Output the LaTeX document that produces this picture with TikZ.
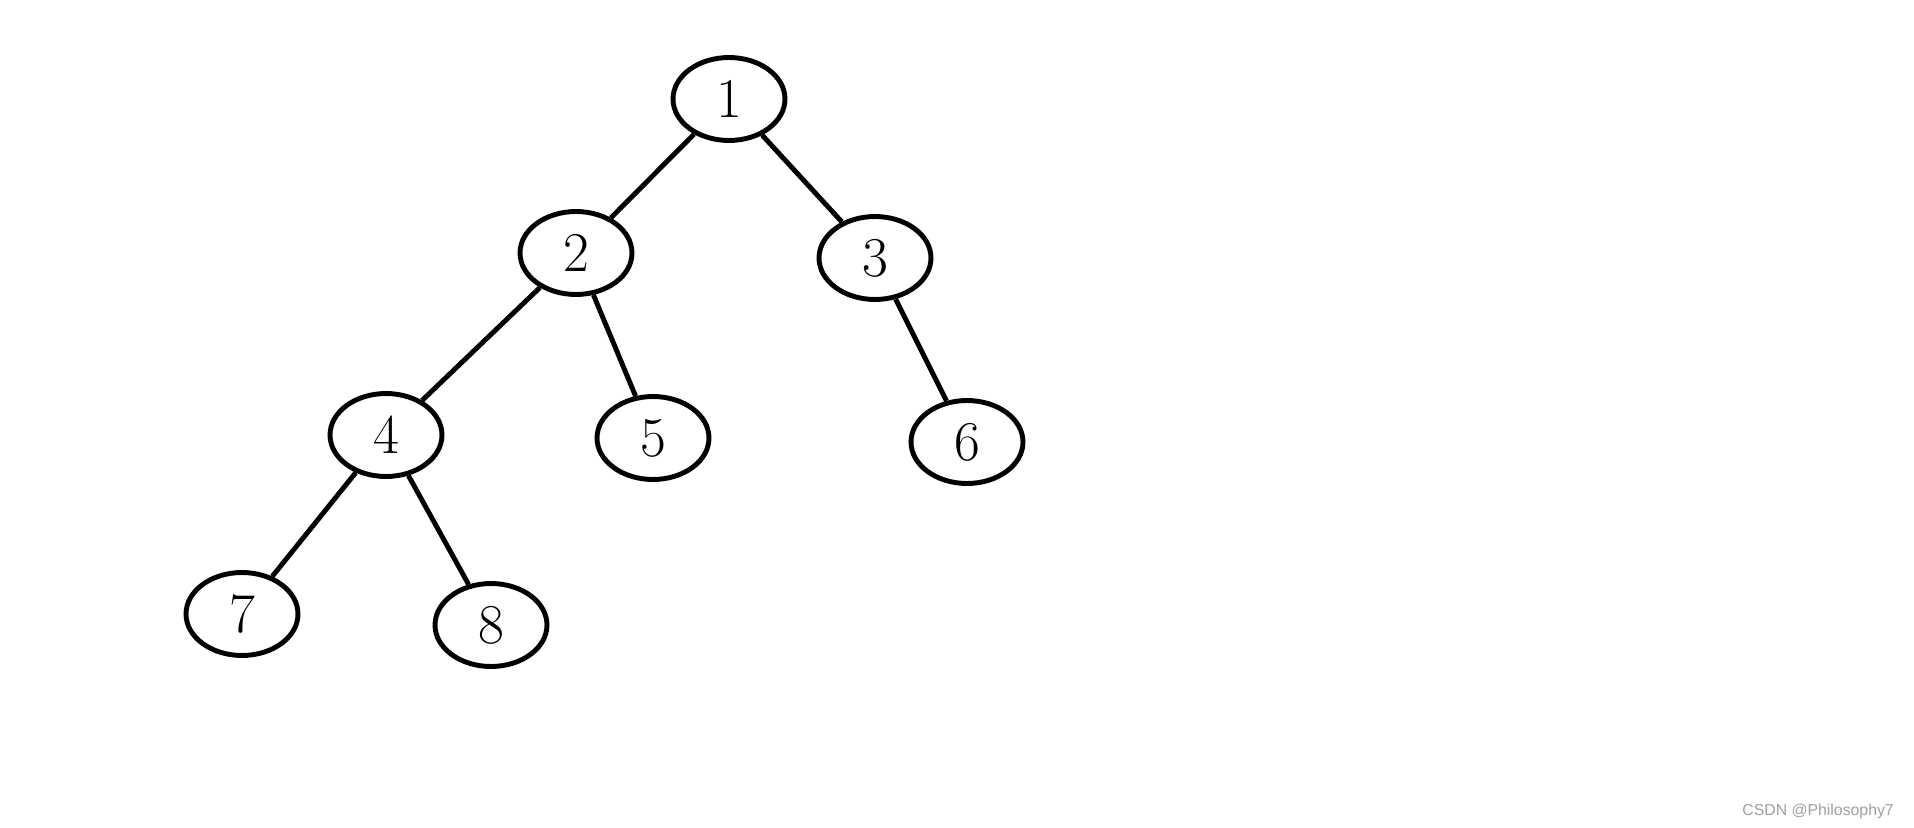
\documentclass[tikz,border=0pt]{standalone}
\usepackage{fontspec}
\newfontfamily\markfont{Liberation Sans}
\usetikzlibrary{shapes.geometric}

\begin{document}
\begin{tikzpicture}[x=0.02cm, y=-0.02cm,
    tnode/.style={ellipse, draw, line width=2.8pt, inner sep=0pt,
      minimum width=2.24cm, minimum height=1.66cm,
      font=\fontsize{32}{36}\selectfont},
    tedge/.style={line width=2.8pt}]

  \useasboundingbox (0,0) rectangle (1914,828);

  % ---- tree nodes ----
  \node[tnode] (n1) at (729,99)  {1};
  \node[tnode] (n2) at (576,253) {2};
  \node[tnode] (n3) at (875,258) {3};
  \node[tnode] (n4) at (386,435) {4};
  \node[tnode] (n5) at (653,438) {5};
  \node[tnode] (n6) at (967,442) {6};
  \node[tnode] (n7) at (242,614) {7};
  \node[tnode] (n8) at (491,625) {8};

  % ---- edges ----
  \draw[tedge] (n1) -- (n2);
  \draw[tedge] (n1) -- (n3);
  \draw[tedge] (n2) -- (n4);
  \draw[tedge] (n2) -- (n5);
  \draw[tedge] (n3) -- (n6);
  \draw[tedge] (n4) -- (n7);
  \draw[tedge] (n4) -- (n8);

  % ---- watermark ----
  \node[font=\markfont\fontsize{9}{11}\selectfont, text=gray!75, anchor=south east]
    (mark) at (1900,825) {CSDN @Philosophy7};

\end{tikzpicture}
\end{document}
